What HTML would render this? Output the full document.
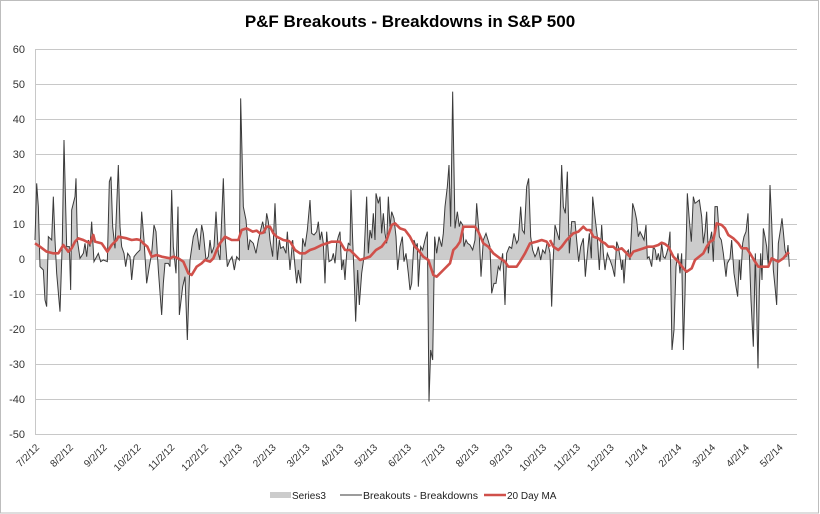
<!DOCTYPE html>
<html><head><meta charset="utf-8"><style>
html,body{margin:0;padding:0;background:#fff;}
svg{display:block;font-family:"Liberation Sans",sans-serif;}
</style></head><body>
<svg width="820" height="514" viewBox="0 0 820 514" xmlns="http://www.w3.org/2000/svg">
<rect x="0.5" y="0.5" width="818" height="512.5" fill="#fff" stroke="#bdbdbd"/>
<text x="410" y="27" text-anchor="middle" font-size="17" font-weight="bold" fill="#000">P&amp;F Breakouts - Breakdowns in S&amp;P 500</text>
<g stroke="#c8c8c8" stroke-width="1">
<line x1="36" x2="797" y1="49.5" y2="49.5"/><line x1="36" x2="797" y1="84.5" y2="84.5"/><line x1="36" x2="797" y1="119.5" y2="119.5"/><line x1="36" x2="797" y1="154.5" y2="154.5"/><line x1="36" x2="797" y1="189.5" y2="189.5"/><line x1="36" x2="797" y1="224.5" y2="224.5"/><line x1="36" x2="797" y1="259.5" y2="259.5"/><line x1="36" x2="797" y1="294.5" y2="294.5"/><line x1="36" x2="797" y1="329.5" y2="329.5"/><line x1="36" x2="797" y1="364.5" y2="364.5"/><line x1="36" x2="797" y1="399.5" y2="399.5"/><line x1="36" x2="797" y1="434.5" y2="434.5"/>
<line x1="35.5" x2="35.5" y1="49" y2="435"/>
</g>
<g font-size="11" fill="#333" text-anchor="end">
<text x="25" y="53">60</text><text x="25" y="88">50</text><text x="25" y="123">40</text><text x="25" y="158">30</text><text x="25" y="193">20</text><text x="25" y="228">10</text><text x="25" y="263">0</text><text x="25" y="298">-10</text><text x="25" y="333">-20</text><text x="25" y="368">-30</text><text x="25" y="403">-40</text><text x="25" y="438">-50</text>
</g>
<g font-size="10" fill="#333" text-anchor="end">
<text transform="translate(40,448) rotate(-45)">7/2/12</text>
<text transform="translate(73.8,448) rotate(-45)">8/2/12</text>
<text transform="translate(107.6,448) rotate(-45)">9/2/12</text>
<text transform="translate(141.4,448) rotate(-45)">10/2/12</text>
<text transform="translate(175.2,448) rotate(-45)">11/2/12</text>
<text transform="translate(209,448) rotate(-45)">12/2/12</text>
<text transform="translate(242.8,448) rotate(-45)">1/2/13</text>
<text transform="translate(276.6,448) rotate(-45)">2/2/13</text>
<text transform="translate(310.4,448) rotate(-45)">3/2/13</text>
<text transform="translate(344.2,448) rotate(-45)">4/2/13</text>
<text transform="translate(378,448) rotate(-45)">5/2/13</text>
<text transform="translate(411.8,448) rotate(-45)">6/2/13</text>
<text transform="translate(445.6,448) rotate(-45)">7/2/13</text>
<text transform="translate(479.4,448) rotate(-45)">8/2/13</text>
<text transform="translate(513.2,448) rotate(-45)">9/2/13</text>
<text transform="translate(547,448) rotate(-45)">10/2/13</text>
<text transform="translate(580.8,448) rotate(-45)">11/2/13</text>
<text transform="translate(614.6,448) rotate(-45)">12/2/13</text>
<text transform="translate(648.4,448) rotate(-45)">1/2/14</text>
<text transform="translate(682.2,448) rotate(-45)">2/2/14</text>
<text transform="translate(716,448) rotate(-45)">3/2/14</text>
<text transform="translate(749.8,448) rotate(-45)">4/2/14</text>
<text transform="translate(783.6,448) rotate(-45)">5/2/14</text>
</g>

<g transform="translate(30,40) scale(0.33333)">
<polygon fill="#cccccc" points="15,657 15,600 20,430 25,500 30,680 40,690 45,780 50,800 55,590 65,600 70,470 75,600 80,700 90,815 97,600 102,300 110,620 118,620 122,750 125,510 135,470 138,415 142,600 150,655 160,640 165,610 170,650 175,600 180,620 185,545 192,665 205,640 212,665 220,660 232,665 238,425 243,410 248,560 255,625 260,500 265,375 270,560 275,620 282,640 287,680 293,640 300,650 305,720 312,650 320,640 330,630 335,515 342,600 350,730 358,680 365,640 372,555 378,575 385,690 395,825 400,730 405,670 415,670 420,680 425,450 430,620 438,700 444,500 448,825 458,740 465,710 472,900 480,660 490,590 500,565 508,630 515,555 520,580 528,660 535,650 540,600 545,640 552,620 558,515 565,640 570,660 580,415 586,600 592,680 600,660 606,650 613,690 620,650 628,660 632,175 640,500 648,540 655,630 660,600 670,610 678,640 685,600 692,570 698,545 705,580 710,520 715,545 720,600 728,650 735,490 742,660 748,600 752,625 760,620 768,640 772,575 780,690 780,657"/>
<polyline fill="none" stroke="#3a3a3a" stroke-width="1" vector-effect="non-scaling-stroke" points="15,600 20,430 25,500 30,680 40,690 45,780 50,800 55,590 65,600 70,470 75,600 80,700 90,815 97,600 102,300 110,620 118,620 122,750 125,510 135,470 138,415 142,600 150,655 160,640 165,610 170,650 175,600 180,620 185,545 192,665 205,640 212,665 220,660 232,665 238,425 243,410 248,560 255,625 260,500 265,375 270,560 275,620 282,640 287,680 293,640 300,650 305,720 312,650 320,640 330,630 335,515 342,600 350,730 358,680 365,640 372,555 378,575 385,690 395,825 400,730 405,670 415,670 420,680 425,450 430,620 438,700 444,500 448,825 458,740 465,710 472,900 480,660 490,590 500,565 508,630 515,555 520,580 528,660 535,650 540,600 545,640 552,620 558,515 565,640 570,660 580,415 586,600 592,680 600,660 606,650 613,690 620,650 628,660 632,175 640,500 648,540 655,630 660,600 670,610 678,640 685,600 692,570 698,545 705,580 710,520 715,545 720,600 728,650 735,490 742,660 748,600 752,625 760,620 768,640 772,575 780,690"/>
<polyline fill="none" stroke="#d0504a" stroke-width="2.6" stroke-linejoin="round" vector-effect="non-scaling-stroke" points="15,610 30,620 50,635 70,640 85,640 100,615 115,635 125,625 135,605 145,595 160,600 170,605 180,610 190,585 195,605 215,610 232,635 245,615 260,600 265,590 290,595 305,600 320,598 330,600 340,610 352,620 365,650 380,645 395,650 420,655 430,650 445,655 460,665 475,700 485,705 500,680 515,670 525,660 540,665 550,655 560,630 570,610 585,590 605,600 625,600 635,570 650,565 668,575 680,572 690,580 700,578 710,560 720,560 730,580 740,590 760,600 780,604"/>
</g>
<g transform="translate(290,40) scale(0.33333)">
<polygon fill="#cccccc" points="0,657 0,690 8,600 15,680 20,730 25,690 32,730 38,595 45,620 52,570 60,480 65,580 72,585 80,575 85,545 90,600 95,575 100,610 105,730 110,575 117,665 125,660 130,640 135,670 140,610 145,590 150,575 155,690 160,660 165,720 170,640 175,610 180,615 183,450 188,600 192,700 197,845 203,690 208,795 215,700 222,650 230,470 235,640 240,570 245,595 250,520 255,600 258,460 265,490 270,470 275,580 280,520 285,580 290,610 295,470 300,560 305,515 312,535 318,590 323,690 330,620 337,590 342,665 348,640 355,700 360,750 365,730 372,600 378,620 382,610 385,740 392,620 398,630 405,600 412,575 417,1085 422,930 428,960 434,590 440,640 447,590 455,620 460,580 465,500 472,440 477,375 482,560 488,155 495,565 502,515 508,560 512,545 518,555 522,620 528,600 533,610 540,615 548,630 555,600 560,490 568,590 573,710 580,600 588,580 600,620 605,760 612,730 618,730 625,680 630,690 638,640 645,795 650,640 658,620 665,625 672,580 680,610 685,600 692,500 697,570 703,580 710,440 716,415 722,590 728,630 735,650 740,640 745,620 752,660 758,630 765,640 772,605 778,630 780,640 780,657"/>
<polyline fill="none" stroke="#3a3a3a" stroke-width="1" vector-effect="non-scaling-stroke" points="0,690 8,600 15,680 20,730 25,690 32,730 38,595 45,620 52,570 60,480 65,580 72,585 80,575 85,545 90,600 95,575 100,610 105,730 110,575 117,665 125,660 130,640 135,670 140,610 145,590 150,575 155,690 160,660 165,720 170,640 175,610 180,615 183,450 188,600 192,700 197,845 203,690 208,795 215,700 222,650 230,470 235,640 240,570 245,595 250,520 255,600 258,460 265,490 270,470 275,580 280,520 285,580 290,610 295,470 300,560 305,515 312,535 318,590 323,690 330,620 337,590 342,665 348,640 355,700 360,750 365,730 372,600 378,620 382,610 385,740 392,620 398,630 405,600 412,575 417,1085 422,930 428,960 434,590 440,640 447,590 455,620 460,580 465,500 472,440 477,375 482,560 488,155 495,565 502,515 508,560 512,545 518,555 522,620 528,600 533,610 540,615 548,630 555,600 560,490 568,590 573,710 580,600 588,580 600,620 605,760 612,730 618,730 625,680 630,690 638,640 645,795 650,640 658,620 665,625 672,580 680,610 685,600 692,500 697,570 703,580 710,440 716,415 722,590 728,630 735,650 740,640 745,620 752,660 758,630 765,640 772,605 778,630 780,640"/>
<polyline fill="none" stroke="#d0504a" stroke-width="2.6" stroke-linejoin="round" vector-effect="non-scaling-stroke" points="0,604 15,630 30,640 45,640 60,630 75,625 95,615 110,610 125,605 150,605 165,630 180,630 195,645 210,660 225,655 240,650 258,630 275,620 290,600 305,555 315,550 330,565 345,570 360,590 375,620 385,630 400,650 415,660 430,705 440,710 460,690 480,670 490,630 500,620 510,605 520,560 540,560 555,560 565,575 580,610 595,620 610,640 630,655 645,665 655,680 665,680 680,680 690,665 705,640 720,610 740,605 755,600 770,605 780,620"/>
</g>
<g transform="translate(550,40) scale(0.33333)">
<polygon fill="#cccccc" points="0,657 0,640 5,800 10,650 15,555 22,580 28,600 35,375 40,500 46,520 52,395 58,640 65,545 75,545 80,600 86,665 92,620 100,595 106,710 112,640 118,580 124,655 128,470 136,540 142,590 148,690 155,555 160,640 165,690 172,640 180,660 187,680 194,710 200,605 205,620 210,650 215,690 218,660 222,730 228,640 235,630 240,660 245,560 248,490 255,515 260,540 265,590 270,575 275,585 282,600 288,555 292,655 297,650 305,680 310,620 316,630 320,660 325,640 330,665 335,610 340,650 345,655 350,640 355,620 360,575 366,930 372,870 378,680 384,640 390,700 395,640 400,930 405,765 412,460 418,540 424,605 430,470 435,490 442,485 448,480 455,530 460,610 465,575 470,515 475,640 480,600 485,575 490,665 495,500 502,500 508,590 514,600 520,640 528,710 532,670 540,655 545,600 552,700 558,740 563,770 568,660 572,720 578,610 582,590 588,575 594,520 598,640 603,780 610,920 616,640 624,985 628,750 632,640 636,720 640,565 645,590 650,620 655,680 660,435 665,545 670,690 675,740 680,795 685,610 692,565 696,535 700,575 705,630 710,650 714,615 718,680 718,657"/>
<polyline fill="none" stroke="#3a3a3a" stroke-width="1" vector-effect="non-scaling-stroke" points="0,640 5,800 10,650 15,555 22,580 28,600 35,375 40,500 46,520 52,395 58,640 65,545 75,545 80,600 86,665 92,620 100,595 106,710 112,640 118,580 124,655 128,470 136,540 142,590 148,690 155,555 160,640 165,690 172,640 180,660 187,680 194,710 200,605 205,620 210,650 215,690 218,660 222,730 228,640 235,630 240,660 245,560 248,490 255,515 260,540 265,590 270,575 275,585 282,600 288,555 292,655 297,650 305,680 310,620 316,630 320,660 325,640 330,665 335,610 340,650 345,655 350,640 355,620 360,575 366,930 372,870 378,680 384,640 390,700 395,640 400,930 405,765 412,460 418,540 424,605 430,470 435,490 442,485 448,480 455,530 460,610 465,575 470,515 475,640 480,600 485,575 490,665 495,500 502,500 508,590 514,600 520,640 528,710 532,670 540,655 545,600 552,700 558,740 563,770 568,660 572,720 578,610 582,590 588,575 594,520 598,640 603,780 610,920 616,640 624,985 628,750 632,640 636,720 640,565 645,590 650,620 655,680 660,435 665,545 670,690 675,740 680,795 685,610 692,565 696,535 700,575 705,630 710,650 714,615 718,680"/>
<polyline fill="none" stroke="#d0504a" stroke-width="2.6" stroke-linejoin="round" vector-effect="non-scaling-stroke" points="0,600 10,620 25,630 35,620 50,600 70,580 85,575 100,560 110,570 120,570 130,590 145,595 155,605 165,610 175,620 190,620 200,630 215,625 230,640 240,650 250,635 265,630 280,625 295,620 310,620 325,615 335,608 345,612 355,620 370,650 385,665 400,685 410,695 425,685 435,660 450,648 460,640 470,620 480,605 490,600 500,550 515,555 525,565 535,585 550,595 565,610 575,625 590,625 600,640 612,660 625,680 640,680 655,680 665,655 675,660 685,665 700,655 712,640 718,638"/>
</g>

<rect x="270" y="492" width="21" height="6" fill="#cccccc"/>
<text x="292" y="499" font-size="10" fill="#222">Series3</text>
<line x1="340" x2="362" y1="495" y2="495" stroke="#3a3a3a" stroke-width="1"/>
<text x="363" y="499" font-size="10" fill="#222" textLength="115" lengthAdjust="spacingAndGlyphs">Breakouts - Breakdowns</text>
<line x1="484" x2="506" y1="495" y2="495" stroke="#d0504a" stroke-width="2.6"/>
<text x="507" y="499" font-size="10" fill="#222">20 Day MA</text>
</svg>
</body></html>
